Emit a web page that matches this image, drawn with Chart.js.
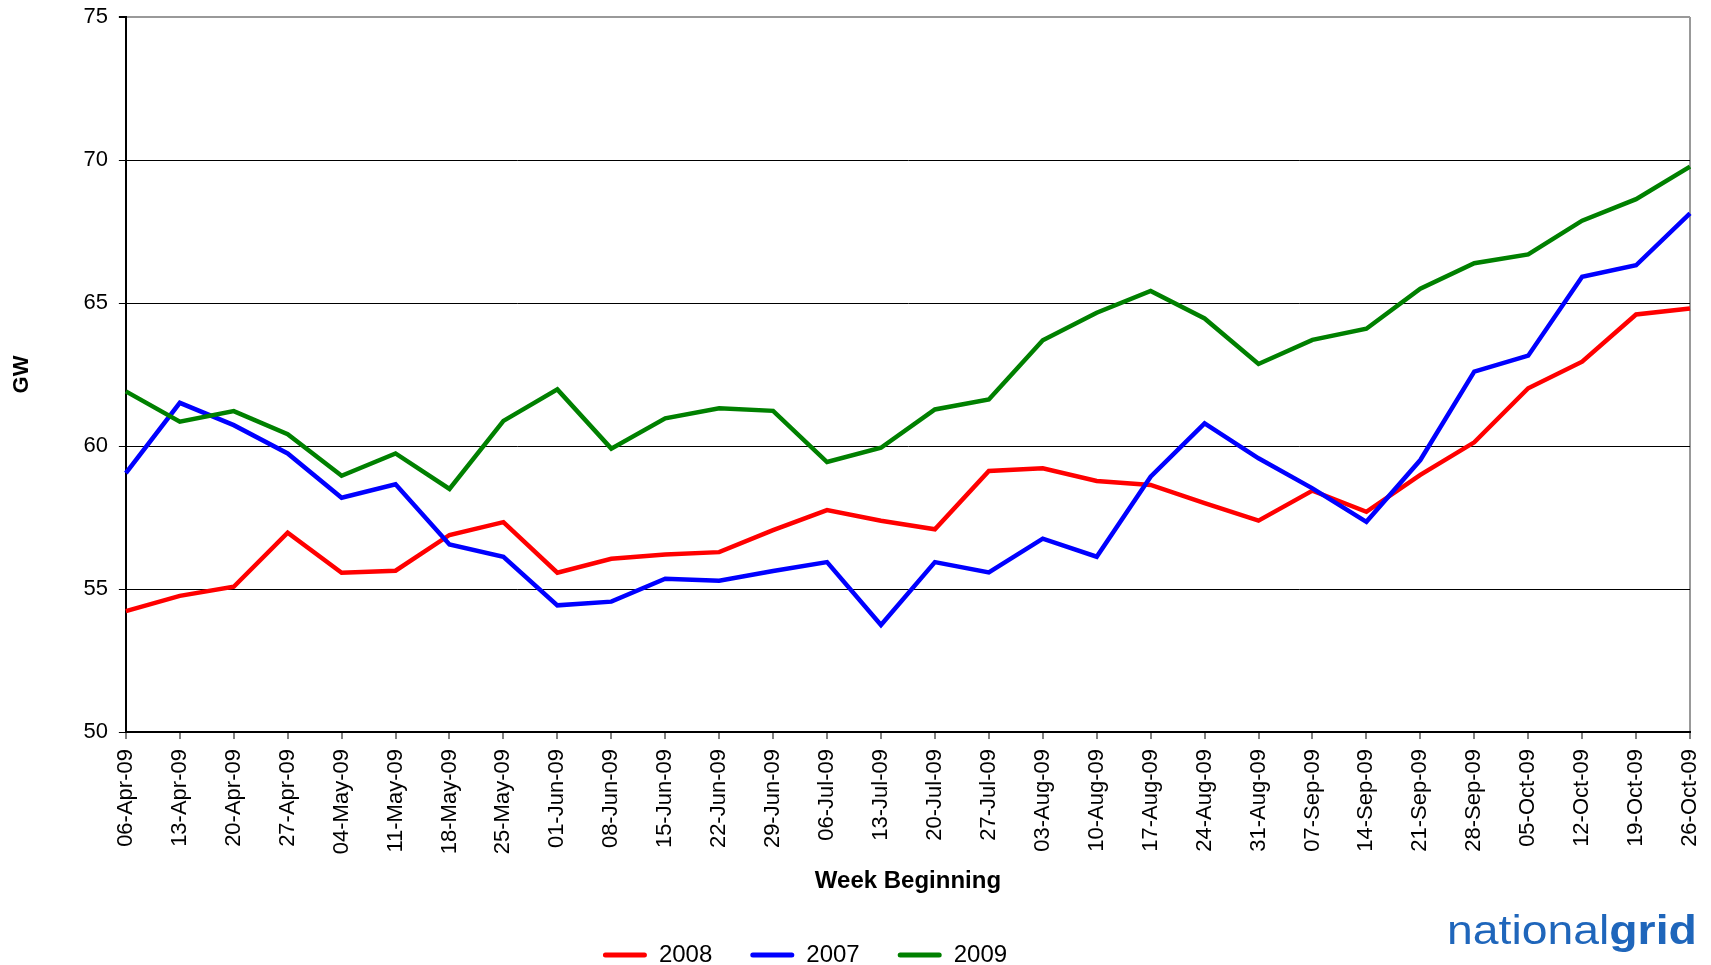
<!DOCTYPE html>
<html>
<head>
<meta charset="utf-8">
<script src="https://cdn.jsdelivr.net/npm/chart.js@4.4.1/dist/chart.umd.min.js"></script>
<style>
html, body { margin: 0; padding: 0; background: #fff; }
#wrap { position: relative; width: 1711px; height: 965px; }
#logo { position: absolute; left: 1447px; top: 910px; font: 41px/41px "Liberation Sans", Arial, sans-serif; color: #1f66bb; white-space: nowrap; transform-origin: 0 0; transform: scaleX(1.13); }
</style>
</head>
<body>
<div id="wrap">
  <canvas id="c" width="1711" height="965"></canvas>
  <div id="logo">national<b>grid</b></div>
</div>
<script>
var weeks = ['06-Apr-09','13-Apr-09','20-Apr-09','27-Apr-09','04-May-09','11-May-09','18-May-09','25-May-09',
  '01-Jun-09','08-Jun-09','15-Jun-09','22-Jun-09','29-Jun-09','06-Jul-09','13-Jul-09','20-Jul-09','27-Jul-09',
  '03-Aug-09','10-Aug-09','17-Aug-09','24-Aug-09','31-Aug-09','07-Sep-09','14-Sep-09','21-Sep-09','28-Sep-09',
  '05-Oct-09','12-Oct-09','19-Oct-09','26-Oct-09'];

var gw2008 = [54.23,54.76,55.08,56.97,55.57,55.64,56.89,57.34,55.57,56.06,56.21,56.29,57.06,57.76,57.39,
  57.09,59.13,59.22,58.78,58.64,58.00,57.39,58.44,57.70,58.99,60.13,62.02,62.95,64.60,64.81];
var gw2007 = [59.05,61.51,60.73,59.74,58.19,58.66,56.56,56.13,54.43,54.56,55.36,55.29,55.63,55.94,53.74,
  55.94,55.58,56.76,56.13,58.93,60.79,59.57,58.52,57.35,59.51,62.60,63.16,65.92,66.32,68.13];
var gw2009 = [61.91,60.85,61.22,60.41,58.96,59.74,58.50,60.88,61.98,59.91,60.97,61.32,61.23,59.44,59.94,
  61.28,61.63,63.70,64.66,65.42,64.46,62.87,63.71,64.10,65.50,66.39,66.70,67.88,68.63,69.77];

var seriesNames = ['2008', '2007', '2009'];
var seriesColors = ['#ff0000', '#0000ff', '#008000'];

// legend sits left of centre in the original
var LEGEND_DX = 40;
var LEGEND_DY = 12;

Chart.defaults.font.family = '"Liberation Sans", Arial, sans-serif';
Chart.defaults.color = '#000';

var legendShift = {
  id: 'legendShift',
  afterLayout: function(chart) {
    var lg = chart.legend;
    lg.left -= LEGEND_DX;
    lg.right -= LEGEND_DX;
    lg.top += LEGEND_DY;
    lg.bottom += LEGEND_DY;
  }
};

function makeSet(i, data, order) {
  return {
    label: seriesNames[i],
    data: data,
    borderColor: seriesColors[i],
    backgroundColor: seriesColors[i],
    borderWidth: 4.5,
    pointRadius: 0,
    tension: 0,
    fill: false,
    order: order
  };
}

var ctx = document.getElementById('c');
var myChart = new Chart(ctx, {
  type: 'line',
  data: {
    labels: weeks,
    datasets: [makeSet(0, gw2008, 3), makeSet(1, gw2007, 2), makeSet(2, gw2009, 1)]
  },
  options: {
    responsive: false,
    animation: false,
    devicePixelRatio: 1,
    layout: { padding: { top: 17, right: 21, left: 0, bottom: 0 } },
    plugins: {
      tooltip: { enabled: false },
      legend: {
        position: 'bottom',
        labels: {
          boxWidth: 44,
          boxHeight: 5,
          padding: 38,
          color: '#000',
          font: { size: 24 },
          generateLabels: function(chart) {
            var items = Chart.defaults.plugins.legend.labels.generateLabels(chart);
            items.sort(function(a, b) { return a.datasetIndex - b.datasetIndex; });
            items.forEach(function(it) { it.lineWidth = 0; it.borderRadius = 2.5; });
            return items;
          }
        }
      }
    },
    scales: {
      x: {
        offset: false,
        afterFit: function(axis) { axis.paddingLeft = 0; axis.paddingRight = 0; },
        border: { color: '#000', width: 2 },
        grid: {
          drawOnChartArea: true,
          color: function(c) { return c.index === weeks.length - 1 ? '#999' : 'rgba(0,0,0,0)'; },
          lineWidth: 2,
          tickColor: '#000',
          tickWidth: 1,
          tickLength: 7
        },
        ticks: { autoSkip: false, maxRotation: 90, minRotation: 90, padding: 10, color: '#000', font: { size: 22 } },
        title: { display: true, text: 'Week Beginning', color: '#000', font: { size: 24, weight: 'bold' }, padding: { top: 3, bottom: -3 } }
      },
      y: {
        min: 50,
        max: 75,
        afterFit: function(axis) { axis.paddingTop = 0; axis.paddingBottom = 0; },
        border: { color: '#000', width: 2 },
        grid: {
          color: function(c) { return c.tick && c.tick.value === 75 ? '#999' : '#000'; },
          lineWidth: function(c) { return c.tick && c.tick.value === 75 ? 2 : 1; },
          tickColor: '#000',
          tickLength: 7
        },
        ticks: { stepSize: 5, padding: 11, color: '#000', font: { size: 22 } },
        title: { display: true, text: 'GW', color: '#000', font: { size: 22, weight: 'bold' }, padding: { top: 9, bottom: 37 } }
      }
    }
  },
  plugins: [legendShift]
});
</script>
</body>
</html>
